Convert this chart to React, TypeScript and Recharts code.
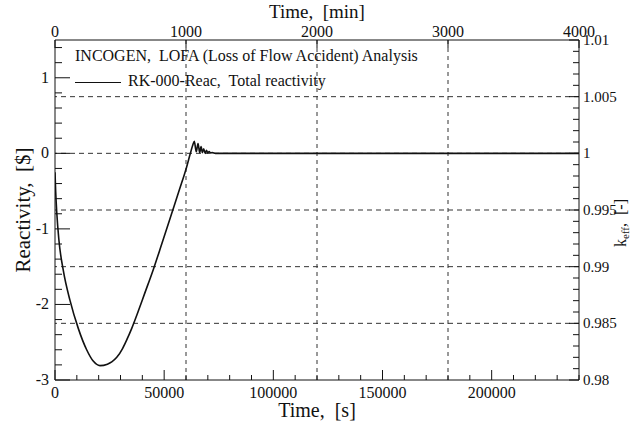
import React from 'react';
import { LineChart, Line, XAxis, YAxis, ReferenceLine, Legend, Label } from 'recharts';

// ---- data ----
const timeS = [0, 300, 800, 1800, 3800, 6900, 10700, 14500, 17500, 20600, 24000, 26000, 28300, 31000, 33000, 35100, 38000, 41000, 45000, 49000, 53400, 57000, 60300, 62000, 63000, 63800, 64700, 65500, 66300, 66900, 67500, 68100, 68800, 69400, 70000, 70600, 71200, 72000, 73500, 240000];
const reactivity = [-0.25, -0.5, -0.78, -1.15, -1.55, -1.95, -2.32, -2.6, -2.75, -2.81, -2.79, -2.76, -2.7, -2.58, -2.46, -2.32, -2.1, -1.86, -1.54, -1.19, -0.8, -0.48, -0.18, 0.0, 0.1, 0.16, 0.02, 0.13, 0.01, 0.09, 0.01, 0.06, 0.0, 0.04, 0.005, 0.025, 0.005, 0.01, 0, 0];
const SEC_PER_MIN = 60;

const bottomLabels = [0, 50000, 100000, 150000, 200000];
const topLabels = [0, 1000, 2000, 3000, 4000];
const leftLabels = [-3, -2, -1, 0, 1];
const rightLabels = [0.98, 0.985, 0.99, 0.995, 1, 1.005, 1.01];
const verticalGridMin = [1000, 2000, 3000];
const horizontalGridK = [0.985, 0.99, 0.995, 1, 1.005];

const seriesName = 'RK-000-Reac,  Total reactivity';
const titleText = 'INCOGEN,  LOFA (Loss of Flow Accident) Analysis';

const range = (a: number, b: number, step: number) => {
  const out: number[] = [];
  const n = Math.round((b - a) / step);
  for (let i = 0; i <= n; i++) out.push(Number((a + i * step).toFixed(6)));
  return out;
};
const bottomTicks = range(0, 240000, 10000);
const leftTicks = range(-3, 1.4, 0.2);
const rightTicks = range(0.98, 1.01, 0.001);

const data = timeS.map((t, i) => ({ t, m: t / SEC_PER_MIN, r: reactivity[i] }));

const FONT = 'Liberation Serif, Times New Roman, serif';
const INK = '#111';

const isIn = (arr: number[], v: number) => arr.some((a) => Math.abs(a - v) < 1e-9);

const BottomTick = (props: any) => {
  const { x, y, payload } = props;
  const v = payload.value;
  const major = isIn(bottomLabels, v);
  return (
    <g>
      <line x1={x} x2={x} y1={y} y2={y - (major ? 10 : 5)} stroke={INK} strokeWidth={1} />
      {major && (
        <text x={x} y={y + 18} textAnchor="middle" fontFamily={FONT} fontSize={16} fill={INK}>
          {v}
        </text>
      )}
    </g>
  );
};

const TopTick = (props: any) => {
  const { x, y, payload } = props;
  const v = payload.value;
  return (
    <g>
      <line x1={x} x2={x} y1={y} y2={y + 8} stroke={INK} strokeWidth={1} />
      <text x={x} y={y - 3} textAnchor="middle" fontFamily={FONT} fontSize={16} fill={INK}>
        {v}
      </text>
    </g>
  );
};

const LeftTick = (props: any) => {
  const { x, y, payload } = props;
  const v = payload.value;
  const major = isIn(leftLabels, v);
  return (
    <g>
      <line x1={x} x2={x + (major ? 15 : 7)} y1={y} y2={y} stroke={INK} strokeWidth={1} />
      {major && (
        <text x={x - 6} y={y + 5} textAnchor="end" fontFamily={FONT} fontSize={16} fill={INK}>
          {v}
        </text>
      )}
    </g>
  );
};

const RightTick = (props: any) => {
  const { x, y, payload } = props;
  const v = payload.value;
  const major = isIn(rightLabels, v);
  return (
    <g>
      <line x1={x} x2={x - (major ? 10 : 6)} y1={y} y2={y} stroke={INK} strokeWidth={1} />
      {major && (
        <text x={x + 4} y={y + 5} textAnchor="start" fontFamily={FONT} fontSize={15} fill={INK}>
          {v}
        </text>
      )}
    </g>
  );
};

const LegendBox = () => (
  <div style={{ position: 'relative', width: 636, height: 100, fontFamily: FONT, color: INK, fontSize: 16 }}>
    <div style={{ position: 'absolute', left: 75, top: 47, whiteSpace: 'pre' }}>{titleText}</div>
    <div style={{ position: 'absolute', left: 75, top: 82, width: 46, height: 0, borderTop: `1.5px solid ${INK}` }} />
    <div style={{ position: 'absolute', left: 128, top: 72, whiteSpace: 'pre' }}>{seriesName}</div>
  </div>
);

export default function App() {
  return (
    <div style={{ position: 'absolute', left: 0, top: 0, background: '#fff' }}>
      <LineChart width={636} height={425} data={data} margin={{ top: 0, right: 0, bottom: 0, left: 0 }}>
        <XAxis
          xAxisId="s"
          dataKey="t"
          type="number"
          domain={[0, 240000]}
          ticks={bottomTicks}
          interval={0}
          height={45}
          tickSize={0}
          tickMargin={0}
          tick={<BottomTick />}
          axisLine={{ stroke: INK, strokeWidth: 1 }}
          tickLine={false}
          allowDataOverflow
        >
          <Label
            content={(p: any) => {
              const vb = p.viewBox;
              return (
                <text x={vb.x + vb.width / 2} y={vb.y + 37} textAnchor="middle" fontFamily={FONT} fontSize={20} fill={INK} style={{ whiteSpace: 'pre' }}>
                  {'Time,  [s]'}
                </text>
              );
            }}
          />
        </XAxis>
        <XAxis
          xAxisId="min"
          dataKey="m"
          orientation="top"
          type="number"
          domain={[0, 4000]}
          ticks={topLabels}
          interval={0}
          height={40}
          tickSize={0}
          tickMargin={0}
          tick={<TopTick />}
          axisLine={{ stroke: INK, strokeWidth: 1 }}
          tickLine={false}
          allowDataOverflow
        >
          <Label
            content={(p: any) => {
              const vb = p.viewBox;
              return (
                <text x={vb.x + vb.width / 2} y={vb.y + 18} textAnchor="middle" fontFamily={FONT} fontSize={19} fill={INK} style={{ whiteSpace: 'pre' }}>
                  {'Time,  [min]'}
                </text>
              );
            }}
          />
        </XAxis>
        <YAxis
          yAxisId="r"
          type="number"
          domain={[-3, 1.5]}
          ticks={leftTicks}
          interval={0}
          width={55}
          tickSize={0}
          tickMargin={0}
          tick={<LeftTick />}
          axisLine={{ stroke: INK, strokeWidth: 1 }}
          tickLine={false}
          allowDataOverflow
        >
          <Label
            content={(p: any) => {
              const vb = p.viewBox;
              const cx = 30;
              const cy = vb.y + vb.height / 2;
              return (
                <text x={cx} y={cy} transform={`rotate(-90 ${cx} ${cy})`} textAnchor="middle" fontFamily={FONT} fontSize={21} fill={INK} style={{ whiteSpace: 'pre' }}>
                  {'Reactivity,  [$]'}
                </text>
              );
            }}
          />
        </YAxis>
        <YAxis
          yAxisId="k"
          orientation="right"
          type="number"
          domain={[0.98, 1.01]}
          ticks={rightTicks}
          interval={0}
          width={57}
          tickSize={0}
          tickMargin={0}
          tick={<RightTick />}
          axisLine={{ stroke: INK, strokeWidth: 1 }}
          tickLine={false}
          allowDataOverflow
        >
          <Label
            content={(p: any) => {
              const vb = p.viewBox;
              const cx = 626;
              const cy = vb.y + vb.height / 2 + 13;
              return (
                <text x={cx} y={cy} transform={`rotate(-90 ${cx} ${cy})`} textAnchor="middle" fontFamily={FONT} fontSize={16} fill={INK} style={{ whiteSpace: 'pre' }}>
                  k<tspan fontSize={11} dy={3}>eff</tspan>
                  <tspan dy={-3}>{',  [-]'}</tspan>
                </text>
              );
            }}
          />
        </YAxis>
        {horizontalGridK.map((v) => (
          <ReferenceLine key={'h' + v} xAxisId="s" yAxisId="k" y={v} stroke="#333" strokeWidth={1} strokeDasharray="5 4" />
        ))}
        {verticalGridMin.map((v) => (
          <ReferenceLine key={'v' + v} xAxisId="min" yAxisId="r" x={v} stroke="#333" strokeWidth={1} strokeDasharray="4 4" />
        ))}
        <Legend
          layout="horizontal"
          verticalAlign="middle"
          align="center"
          content={() => <LegendBox />}
          wrapperStyle={{ position: 'absolute', left: 0, top: 0, width: 636, height: 100 }}
        />
        <Line
          xAxisId="min"
          yAxisId="r"
          dataKey="r"
          type="monotone"
          stroke="none"
          strokeOpacity={0}
          dot={false}
          activeDot={false}
          legendType="none"
          isAnimationActive={false}
        />
        <Line
          xAxisId="s"
          yAxisId="r"
          dataKey="r"
          name={seriesName}
          type="monotone"
          stroke={INK}
          strokeWidth={1.6}
          dot={false}
          isAnimationActive={false}
        />
      </LineChart>
    </div>
  );
}
